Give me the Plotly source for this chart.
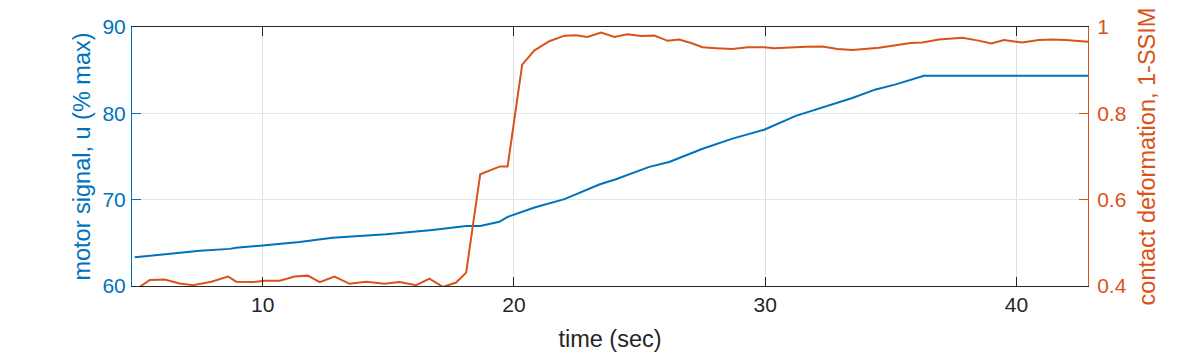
import plotly.graph_objects as go

# motor signal u (% max), left axis
t_motor = [4.91, 6.17, 7.50, 8.69, 8.95, 10.0, 11.47, 12.78, 14.92, 16.76, 17.70, 18.10, 18.66,
           19.42, 19.75, 20.35, 20.82, 22.01, 23.40, 24.06, 25.39, 26.18, 27.51, 28.70, 29.96,
           31.22, 32.15, 33.47, 34.40, 35.20, 36.32, 42.85]
u_motor = [63.32, 63.7, 64.08, 64.3, 64.43, 64.7, 65.1, 65.6, 66.0, 66.5, 66.8, 66.94, 66.94,
           67.43, 68.0, 68.6, 69.1, 70.06, 71.76, 72.37, 73.8, 74.37, 75.9, 77.07, 78.1,
           79.7, 80.54, 81.77, 82.77, 83.35, 84.35, 84.35]

# contact deformation 1-SSIM, right axis
t_def = [5.11, 5.51, 6.10, 6.70, 7.23, 7.96, 8.62, 8.95, 9.61, 10.08, 10.68, 11.27, 11.80,
         12.27, 12.86, 13.46, 14.12, 14.85, 15.45, 16.11, 16.64, 17.17, 17.70, 18.10, 18.66,
         19.09, 19.45, 19.75, 20.33, 20.82, 21.41, 22.01, 22.47, 22.93, 23.47, 24.00, 24.52,
         25.06, 25.59, 26.12, 26.58, 27.05, 27.51, 28.04, 28.70, 29.30, 29.96, 30.36, 30.95,
         31.62, 32.28, 32.88, 33.47, 34.01, 34.53, 35.33, 35.79, 36.25, 36.92, 37.32, 37.85,
         38.44, 39.01, 39.50, 40.23, 40.89, 41.42, 41.96, 42.85]
ssim_def = [0.398, 0.414, 0.415, 0.406, 0.402, 0.410, 0.422, 0.410, 0.409, 0.412, 0.412, 0.422, 0.424,
            0.409, 0.422, 0.405, 0.410, 0.405, 0.409, 0.402, 0.417, 0.398, 0.408, 0.431, 0.659,
            0.668, 0.677, 0.677, 0.913, 0.946, 0.967, 0.980, 0.981, 0.977, 0.987, 0.977, 0.983,
            0.979, 0.980, 0.968, 0.971, 0.963, 0.953, 0.951, 0.949, 0.953, 0.953, 0.951, 0.953,
            0.954, 0.955, 0.949, 0.947, 0.949, 0.952, 0.959, 0.963, 0.964, 0.971, 0.973, 0.975,
            0.969, 0.962, 0.970, 0.964, 0.970, 0.971, 0.970, 0.966]

x_ticks = [10, 20, 30, 40]
left_ticks = [60, 70, 80, 90]
right_ticks = [0.4, 0.6, 0.8, 1.0]
right_ticktext = ['0.4', '0.6', '0.8', '1']

BLUE = '#0072BD'
ORANGE = '#D95319'
DARK = '#262626'
FONT = 'Liberation Sans, Arial, sans-serif'

fig = go.Figure()
fig.add_trace(go.Scatter(x=t_motor, y=u_motor, mode='lines',
                         line=dict(color=BLUE, width=2), yaxis='y'))
fig.add_trace(go.Scatter(x=t_def, y=ssim_def, mode='lines',
                         line=dict(color=ORANGE, width=2), yaxis='y2'))

# the page body adds 8px, so margins are shifted to keep the plot box in place
fig.update_layout(
    width=1196, height=353,
    margin=dict(l=124, r=116, t=19, b=75),
    plot_bgcolor='white',
    paper_bgcolor='white',
    showlegend=False,
    font=dict(family=FONT, size=21, color=DARK),
    xaxis=dict(
        range=[4.8, 42.85],
        tickvals=x_ticks,
        showgrid=True, gridcolor='#dedede', gridwidth=1,
        zeroline=False,
        showline=True, linecolor=DARK, linewidth=1, mirror='ticks',
        ticks='inside', ticklen=9, tickcolor=DARK,
        tickfont=dict(size=21, color=DARK),
        ticklabelstandoff=0,
        title=dict(text='time (sec)', font=dict(size=23.5, color=DARK), standoff=15),
        automargin=False,
    ),
    yaxis=dict(
        range=[60, 90],
        tickvals=left_ticks,
        showgrid=True, gridcolor='#d9eaf5', gridwidth=1,
        zeroline=False,
        showline=True, linecolor=BLUE, linewidth=1,
        ticks='inside', ticklen=9, tickcolor=BLUE,
        tickfont=dict(size=21, color=BLUE),
        ticklabelstandoff=1,
        title=dict(text='motor signal, u (% max)', font=dict(size=23.5, color=BLUE), standoff=5),
        automargin=False,
    ),
    yaxis2=dict(
        range=[0.4, 1.0],
        overlaying='y', side='right',
        tickvals=right_ticks, ticktext=right_ticktext,
        showgrid=False, zeroline=False,
        showline=True, linecolor=ORANGE, linewidth=1,
        ticks='inside', ticklen=9, tickcolor=ORANGE,
        tickfont=dict(size=21, color=ORANGE),
        ticklabelstandoff=4,
        title=dict(text='contact deformation, 1-SSIM', font=dict(size=23.5, color=ORANGE), standoff=12),
        automargin=False,
    ),
)

fig.write_html("out.html")
